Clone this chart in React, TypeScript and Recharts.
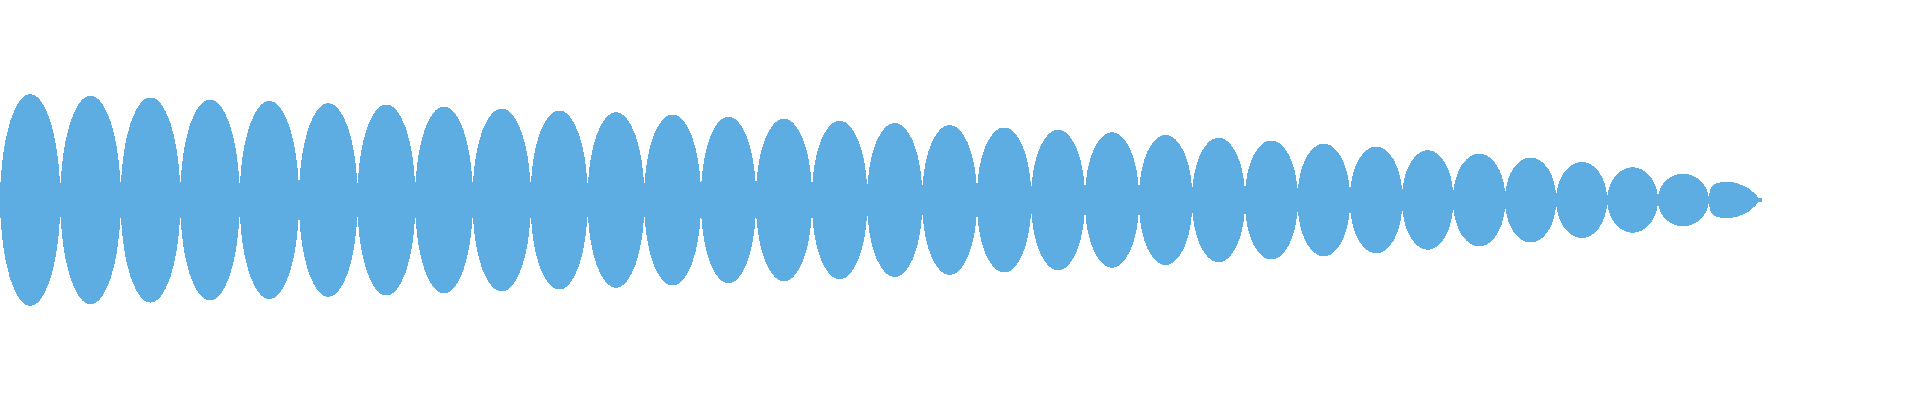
import React from 'react';
import { Area, AreaChart, XAxis, YAxis } from 'recharts';

// x position of each node between lobes (px units of the x axis)
const nodeX = [
  0, 60.3, 120.7, 180.3, 239.7, 299, 357.5, 415.3, 472.7, 530.7, 587.7, 644.3, 701, 756, 812, 867.3,
  922.3, 977, 1031.3, 1085, 1139, 1192.3, 1245, 1297.7, 1350, 1402.3, 1453.3, 1505.3, 1556.3, 1607.3,
  1658, 1708.7,
];

// half thickness of the band at each node
const nodeHalf = [
  13, 16, 17, 17, 16, 16, 17, 17, 17, 17, 16, 16, 15, 15, 15, 15,
  14, 14, 13, 12, 12, 12, 11, 11, 10, 10, 9, 8, 6, 5,
  4.5, 4,
];

// half height of each lobe at its crest
const peakHalf = [
  105.8, 104.2, 102.5, 100.5, 99, 96.8, 95.5, 93.5, 91.3, 89.5, 87.7, 85.5, 83.3, 81.3, 79.2, 77,
  74.8, 72.5, 70.2, 67.7, 65, 62.2, 59.5, 56.3, 53.3, 49.7, 46.3, 42.5, 38, 32.7, 26.2,
];

// shape of a lobe edge: position across lobe -> share of crest
const lobeF = [0.01, 0.02, 0.03, 0.045, 0.06, 0.08, 0.1, 0.13, 0.16, 0.2, 0.25, 0.3, 0.35, 0.4, 0.45, 0.5];
const lobeP = [0.06, 0.15, 0.22, 0.31, 0.38, 0.46, 0.53, 0.61, 0.69, 0.76, 0.84, 0.9, 0.946, 0.977, 0.994, 1];

// last, tapering lobe
const tailX = [1710, 1711.7, 1714, 1718.3, 1726.7, 1735, 1741.7, 1748.3, 1753.3, 1756.7, 1758.3, 1761.7];
const tailHalf = [10, 13.3, 15.3, 17.3, 18, 17.3, 15, 11.7, 7.7, 4.3, 2.3, 2];

type Row = { x: number; band: [number, number] };

function buildRows(): Row[] {
  const rows: Row[] = [];
  const push = (x: number, h: number) => rows.push({ x, band: [-h, h] });
  for (let i = 0; i < peakHalf.length; i++) {
    const x0 = nodeX[i];
    const x1 = nodeX[i + 1];
    const w = x1 - x0;
    const a = nodeHalf[i];
    const b = nodeHalf[i + 1];
    const top = peakHalf[i];
    push(x0, a);
    lobeF.forEach((f, k) => push(x0 + f * w, a + (top - a) * lobeP[k]));
    for (let k = lobeF.length - 2; k >= 0; k--) {
      push(x1 - lobeF[k] * w, b + (top - b) * lobeP[k]);
    }
  }
  push(nodeX[nodeX.length - 1], nodeHalf[nodeHalf.length - 1]);
  tailX.forEach((x, k) => push(x, tailHalf[k]));
  return rows;
}

const rows = buildRows();

export default function App() {
  return (
    <div
      style={{
        position: 'absolute',
        left: 0,
        top: 0,
        width: 1920,
        height: 400,
        background: '#fff',
        shapeRendering: 'crispEdges',
      }}
    >
      <AreaChart width={1920} height={400} data={rows} margin={{ top: 0, right: 0, bottom: 0, left: 0 }}>
        <XAxis hide type="number" dataKey="x" domain={[0, 1920]} allowDataOverflow />
        <YAxis hide type="number" domain={[-200, 200]} allowDataOverflow />
        <Area
          type="monotone"
          dataKey="band"
          stroke="none"
          fill="#5DADE2"
          fillOpacity={1}
          dot={false}
          activeDot={false}
          isAnimationActive={false}
        />
      </AreaChart>
    </div>
  );
}
